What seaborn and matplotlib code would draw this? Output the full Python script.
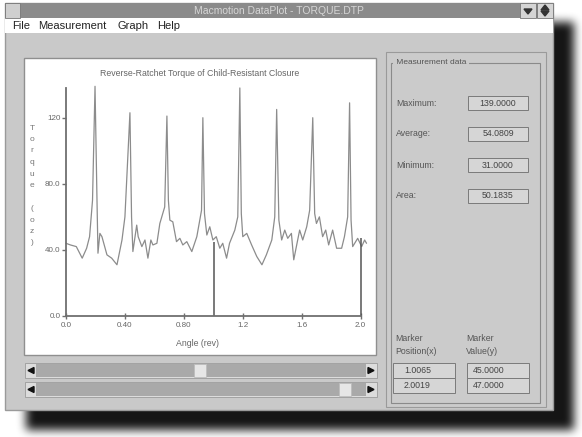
import numpy as np
import matplotlib
matplotlib.use("Agg")
import matplotlib.pyplot as plt
from matplotlib.patches import Rectangle, Polygon
import seaborn as sns

# torque trace (angle in rev, torque)
angle = [0.0, 0.03, 0.07, 0.11, 0.14, 0.16, 0.18, 0.197, 0.21, 0.217, 0.23, 0.244,
         0.278, 0.31, 0.346, 0.38, 0.40, 0.434, 0.445, 0.454, 0.48, 0.49, 0.515,
         0.536, 0.556, 0.576, 0.59, 0.617, 0.637, 0.67, 0.685, 0.695, 0.705, 0.725,
         0.75, 0.773, 0.793, 0.82, 0.854, 0.888, 0.92, 0.929, 0.94, 0.956, 0.976,
         0.997, 1.02, 1.044, 1.064, 1.09, 1.11, 1.146, 1.166, 1.18, 1.19, 1.2,
         1.227, 1.26, 1.295, 1.33, 1.36, 1.397, 1.417, 1.43, 1.445, 1.464, 1.485,
         1.505, 1.53, 1.546, 1.566, 1.586, 1.607, 1.634, 1.654, 1.675, 1.688, 1.70,
         1.72, 1.742, 1.763, 1.783, 1.81, 1.837, 1.871, 1.89, 1.912, 1.925, 1.935,
         1.946, 1.98, 2.007, 2.027, 2.04]
torque = [44, 43, 42, 35, 41, 48, 70, 139, 72, 38, 50, 48,
          37, 35, 31, 46, 60, 123, 60, 39, 55, 48, 42,
          46, 35, 46, 43, 44, 56, 66, 121, 70, 58, 57,
          45, 47, 43, 45, 39, 48, 64, 120, 62, 49, 54,
          46, 48, 41, 44, 35, 44, 52, 60, 138, 62, 48,
          50, 43, 36, 31, 37, 46, 60, 125, 58, 46, 52,
          47, 50, 34, 43, 52, 46, 54, 64, 120, 62, 56,
          60, 48, 52, 43, 52, 41, 41, 48, 60, 129, 58,
          42, 47, 42, 46, 44]

marker_x = [1.0065, 2.0019]
marker_y = [45.0, 47.0]

y_ticks = [0, 40, 80, 120]
y_tick_labels = ["0.0", "40.0", "80.0", "120"]
x_ticks = [0.0, 0.4, 0.8, 1.2, 1.6, 2.0]
x_tick_labels = ["0.0", "0.40", "0.80", "1.2", "1.6", "2.0"]

stats_names = ["Maximum:", "Average:", "Minimum:", "Area:"]
stats_values = ["139.0000", "54.0809", "31.0000", "50.1835"]

sns.set_theme(style="white")
plt.rcParams["font.family"] = ["Liberation Sans", "DejaVu Sans"]

W, H = 582, 437
fig = plt.figure(figsize=(W / 100, H / 100), dpi=100)
bg = fig.add_axes([0, 0, 1, 1])
bg.set_xlim(0, W)
bg.set_ylim(H, 0)
bg.axis("off")


def box(x, y, w, h, fc, ec="none", lw=0.8, z=1):
    bg.add_patch(Rectangle((x, y), w, h, facecolor=fc, edgecolor=ec, lw=lw, zorder=z))


# blurred drop shadow behind the window
mask = np.zeros((H, W))
mask[22:430, 26:574] = 1.0
k = np.ones(9) / 9
for _ in range(3):
    mask = np.apply_along_axis(lambda r: np.convolve(r, k, mode="same"), 1, mask)
    mask = np.apply_along_axis(lambda c: np.convolve(c, k, mode="same"), 0, mask)
shadow = np.zeros((H, W, 4))
shadow[..., 3] = mask * 0.92
bg.imshow(shadow, extent=(0, W, H, 0), zorder=0, interpolation="bilinear")

# window frame
box(5, 3, 548, 407, "#c9c9c9", "#9a9a9a", 1, z=1)
box(5, 3, 548, 15, "#8b8b8b", z=2)
box(5, 3, 15, 15, "#cfcfcf", "#777777", 0.6, z=3)
box(520, 3, 16, 15, "#d5d5d5", "#777777", 0.6, z=3)
box(537, 3, 16, 15, "#d5d5d5", "#777777", 0.6, z=3)
bg.add_patch(Polygon([[524, 9], [532, 9], [528, 14]], color="#333333", zorder=4))
bg.add_patch(Polygon([[541, 10], [549, 10], [545, 5]], color="#333333", zorder=4))
bg.add_patch(Polygon([[541, 11], [549, 11], [545, 16]], color="#333333", zorder=4))
bg.text(279, 11, "Macmotion DataPlot - TORQUE.DTP", ha="center", va="center",
        fontsize=7.5, color="#d6d6d6", zorder=4)
box(5, 18, 548, 15, "#ffffff", z=2)
for label, xm in zip(["File", "Measurement", "Graph", "Help"], [12, 38, 117, 157]):
    bg.text(xm, 26, label, ha="left", va="center", fontsize=8, color="#222222", zorder=4)

# plot panel
box(24, 58, 352, 297, "#ffffff", "#8f8f8f", 1, z=2)
bg.text(200, 74, "Reverse-Ratchet Torque of Child-Resistant Closure", ha="center",
        va="center", fontsize=6.3, color="#666666", zorder=4)
bg.text(197, 343, "Angle (rev)", ha="center", va="center", fontsize=6.3,
        color="#666666", zorder=4)
for i, ch in enumerate("Torque (oz)"):
    bg.text(32, 128 + i * 11.5, ch, ha="center", va="center", fontsize=6,
            color="#777777", zorder=4)

# scroll bars
for yy, thumb in [(363, 200), (382, 345)]:
    box(25, yy, 352, 15, "#dcdcdc", "#9a9a9a", 0.6, z=2)
    box(36, yy + 1, 330, 13, "#a9a9a9", z=3)
    box(thumb - 6, yy + 1, 12, 13, "#e6e6e6", "#bdbdbd", 0.6, z=4)
    bg.add_patch(Polygon([[28, yy + 7.5], [34, yy + 4.5], [34, yy + 10.5]],
                         color="#111111", zorder=4))
    bg.add_patch(Polygon([[374, yy + 7.5], [368, yy + 4.5], [368, yy + 10.5]],
                         color="#111111", zorder=4))

# measurement panel
box(386, 52, 160, 355, "#cbcbcb", "#9a9a9a", 0.8, z=2)
box(391, 63, 149, 340, "none", "#8a8a8a", 0.8, z=3)
bg.text(394, 62, " Measurement data ", ha="left", va="center", fontsize=6,
        color="#555555", zorder=4, bbox=dict(fc="#cbcbcb", ec="none", pad=0.5))
for i, (nm, val) in enumerate(zip(stats_names, stats_values)):
    yy = 103 + i * 31
    bg.text(396, yy, nm, ha="left", va="center", fontsize=6.3, color="#555555", zorder=4)
    box(468, yy - 7, 60, 14, "#d6d6d6", "#7a7a7a", 0.7, z=3)
    bg.text(498, yy, val, ha="center", va="center", fontsize=6.3, color="#444444", zorder=4)

bg.text(395, 345, "Marker\nPosition(x)", ha="left", va="center", fontsize=6.3,
        color="#555555", linespacing=1.6, zorder=4)
bg.text(466, 345, "Marker\nValue(y)", ha="left", va="center", fontsize=6.3,
        color="#555555", linespacing=1.6, zorder=4)
for i in range(2):
    yy = 363 + i * 15
    box(393, yy, 62, 15, "#d6d6d6", "#7a7a7a", 0.7, z=3)
    box(467, yy, 62, 15, "#d6d6d6", "#7a7a7a", 0.7, z=3)
    bg.text(404, yy + 7.5, f"{marker_x[i]:.4f}", ha="left", va="center", fontsize=6.3,
            color="#444444", zorder=4)
    bg.text(473, yy + 7.5, f"{marker_y[i]:.4f}", ha="left", va="center", fontsize=6.3,
            color="#444444", zorder=4)

# data axes
x0, x1, y0, y1 = 66, 368, 316, 83
ax = fig.add_axes([x0 / W, (H - y0) / H, (x1 - x0) / W, (y0 - y1) / H])
ax.set_facecolor("none")
sns.lineplot(x=angle, y=torque, ax=ax, color="#8c8c8c", lw=0.9, estimator=None,
             sort=False, clip_on=False)
ax.vlines(marker_x, 0, marker_y, color="#555555", lw=1.1)
ax.set_xlim(0, 2.05)
ax.set_ylim(0, 141)
for s in ["top", "right"]:
    ax.spines[s].set_visible(False)
for s in ["left", "bottom"]:
    ax.spines[s].set_color("#6f6f6f")
    ax.spines[s].set_linewidth(1.3)
ax.spines["left"].set_bounds(0, 138)
ax.spines["bottom"].set_bounds(0, 2.0)
ax.set_yticks(y_ticks, y_tick_labels)
ax.set_xticks(x_ticks, x_tick_labels)
ax.tick_params(axis="y", direction="out", length=3, width=1, color="#6f6f6f",
               labelsize=5.8, labelcolor="#666666", pad=1, left=True)
ax.tick_params(axis="x", direction="inout", length=5, width=1, color="#6f6f6f",
               labelsize=5.8, labelcolor="#666666", pad=2, bottom=True)
ax.set_xlabel("")
ax.set_ylabel("")

fig.savefig("out.png", dpi=100)
